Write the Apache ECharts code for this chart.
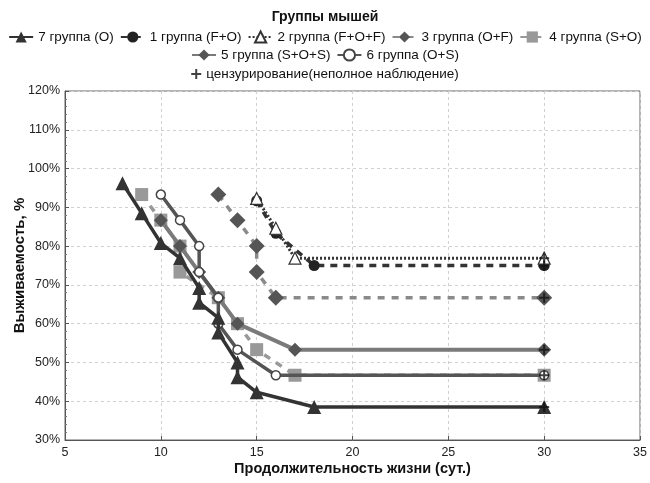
<!DOCTYPE html>
<html>
<head>
<meta charset="utf-8">
<script src="https://cdn.jsdelivr.net/npm/echarts@6/dist/echarts.min.js"></script>
<style>
  html, body { margin: 0; padding: 0; background: #fff; }
  #chart { width: 650px; height: 483px; }
</style>
</head>
<body>
<div id="chart"></div>
<script>
// survival points [day, %] per mouse group
var group7 = [[8,96.2],[9,88.5],[10,80.8],[11,76.9],[12,69.2],[12,65.4],[13,61.5],[13,57.7],[14,50],[14,46.2],[15,42.3],[18,38.5],[30,38.5]];
var group1 = [[15,91.7],[16,83.3],[18,75],[30,75]];
var group2 = [[15,92.3],[16,84.6],[17,76.9],[30,76.9]];
var group3 = [[13,93.3],[14,86.7],[15,80],[15,73.3],[16,66.7],[30,66.7]];
var group4 = [[9,93.3],[10,86.7],[11,80],[11,73.3],[13,66.7],[14,60],[15,53.3],[17,46.7],[30,46.7]];
var group5 = [[10,86.7],[11,80],[12,73.3],[13,66.7],[14,60],[17,53.3],[30,53.3]];
var group6 = [[10,93.3],[11,86.7],[12,80],[12,73.3],[13,66.7],[13,60],[14,53.3],[16,46.7],[30,46.7]];
var censored = [[30,38.5],[30,46.7],[30,53.3],[30,66.7],[30,75],[30,76.9]];

var names = ['7 группа (O)','1 группа (F+O)','2 группа (F+O+F)','3 группа (O+F)','4 группа (S+O)','5 группа (S+O+S)','6 группа (O+S)'];
var censName = 'цензурирование(неполное наблюдение)';

var font = 'Liberation Sans, Arial, sans-serif';
var plus = 'path://M4,0H6V4H10V6H6V10H4V6H0V4H4Z';

function line(name, data, opt) {
    return {
        name: name, type: 'line', data: data,
        symbol: opt.symbol, symbolSize: opt.size,
        lineStyle: { color: opt.line, width: opt.width || 3.5, type: opt.dash || 'solid' },
        itemStyle: { color: opt.fill, borderColor: opt.border || opt.fill, borderWidth: opt.bw || 0 },
        z: opt.z || 2,
        animation: false
    };
}

var legendText = { fontFamily: font, fontSize: 13.5, color: '#111' };

var chart = echarts.init(document.getElementById('chart'));
chart.setOption({
    animation: false,
    title: {
        text: 'Группы мышей', left: 'center', top: 5,
        textStyle: { fontFamily: font, fontSize: 14, fontWeight: 'bold', color: '#111' }
    },
    legend: [
        { top: 25, left: 'center', itemGap: 6, itemWidth: 24, itemHeight: 14,
          data: names.slice(0,5), textStyle: legendText },
        { top: 43, left: 'center', itemGap: 6, itemWidth: 24, itemHeight: 14,
          data: names.slice(5), textStyle: legendText },
        { top: 62, left: 'center', itemWidth: 10, itemHeight: 10,
          data: [censName], textStyle: legendText }
    ],
    grid: { left: 65, right: 10, top: 91, bottom: 43, outerBoundsMode: 'none', containLabel: false,
            show: true, borderColor: '#666', borderWidth: 1 },
    xAxis: {
        type: 'value', min: 5, max: 35, interval: 5,
        name: 'Продолжительность жизни (сут.)', nameLocation: 'middle', nameGap: 21, nameMoveOverlap: false,
        nameTextStyle: { fontFamily: font, fontSize: 14.5, fontWeight: 'bold', color: '#111' },
        axisLine: { lineStyle: { color: '#555' } },
        axisTick: { inside: true, length: 4, lineStyle: { color: '#555' } },
        axisLabel: { fontFamily: font, fontSize: 12.5, color: '#222', margin: 6 },
        splitLine: { show: true, lineStyle: { color: '#d0d0d0', type: [3,3] } }
    },
    yAxis: {
        type: 'value', min: 30, max: 120, interval: 10,
        name: 'Выживаемость, %', nameLocation: 'middle', nameGap: 38, nameRotate: 90, nameMoveOverlap: false,
        nameTextStyle: { fontFamily: font, fontSize: 15, fontWeight: 'bold', color: '#111' },
        axisLine: { lineStyle: { color: '#555' } },
        axisTick: { inside: true, length: 4, lineStyle: { color: '#555' } },
        minorTick: { show: true, splitNumber: 5, length: 2, lineStyle: { color: '#777' } },
        axisLabel: { fontFamily: font, fontSize: 12.5, color: '#222', margin: 5, formatter: '{value}%' },
        splitLine: { show: true, lineStyle: { color: '#d0d0d0', type: [3,3] } }
    },
    series: [
        line(names[0], group7, { symbol: 'triangle', size: 14, line: '#333', fill: '#333', z: 6 }),
        line(names[1], group1, { symbol: 'circle', size: 11, line: '#333', fill: '#222', dash: [7,6], z: 4 }),
        line(names[2], group2, { symbol: 'triangle', size: 12, line: '#333', fill: '#fff', border: '#333', bw: 1.2, dash: [2,2], width: 3, z: 5 }),
        line(names[3], group3, { symbol: 'diamond', size: 16, line: '#8a8a8a', fill: '#555', dash: [7,7], z: 3 }),
        line(names[4], group4, { symbol: 'rect', size: 13, line: '#999', fill: '#999', dash: [7,7], z: 2 }),
        line(names[5], group5, { symbol: 'diamond', size: 14, line: '#7a7a7a', fill: '#555', width: 4, z: 3 }),
        line(names[6], group6, { symbol: 'circle', size: 9, line: '#555', fill: '#fff', border: '#444', bw: 1.5, z: 4 }),
        {
            name: censName, type: 'scatter', data: censored,
            symbol: plus, symbolSize: 10,
            itemStyle: { color: '#111' }, z: 10
        }
    ]
});
</script>
</body>
</html>
